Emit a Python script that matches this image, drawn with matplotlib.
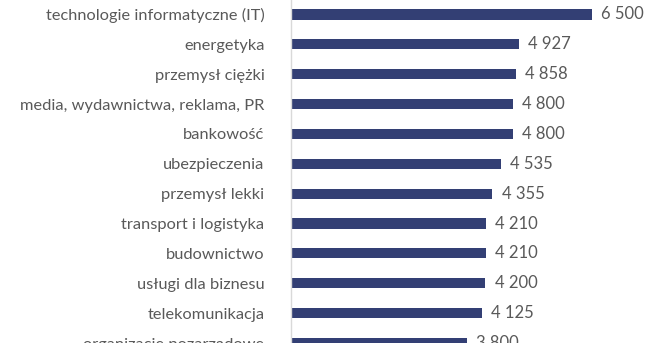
import matplotlib.pyplot as plt

plt.rcParams['font.family'] = ['Lato', 'DejaVu Sans']

branze = [
    'technologie informatyczne (IT)',
    'energetyka',
    'przemysł ciężki',
    'media, wydawnictwa, reklama, PR',
    'bankowość',
    'ubezpieczenia',
    'przemysł lekki',
    'transport i logistyka',
    'budownictwo',
    'usługi dla biznesu',
    'telekomunikacja',
    'organizacje pozarządowe',
]
wynagrodzenie = [6500, 4927, 4858, 4800, 4800, 4535, 4355, 4210, 4210, 4200, 4125, 3800]

bar_color = '#333F74'
text_color = '#595959'

fig = plt.figure(figsize=(6.51, 3.43), dpi=100)
ax = fig.add_axes([291 / 651, 0, 360 / 651, 1])

pos = list(range(len(branze)))
ax.barh(pos, wynagrodzenie, height=0.34, color=bar_color)

for y, v in zip(pos, wynagrodzenie):
    label = f'{v:,}'.replace(',', ' ')
    ax.text(v + 200, y, label, va='center', ha='left',
            fontsize=12, color=text_color)

ax.set_xlim(0, 7782)
ax.set_ylim(10.95, -0.483)
ax.set_yticks(pos)
ax.set_yticklabels(branze, fontsize=11.8, color=text_color)
ax.tick_params(axis='y', length=0, pad=19)
ax.set_xticks([])

for s in ['top', 'right', 'bottom']:
    ax.spines[s].set_visible(False)
ax.spines['left'].set_color('#D9D9D9')
ax.spines['left'].set_linewidth(1)

fig.savefig('out.png', dpi=100)
